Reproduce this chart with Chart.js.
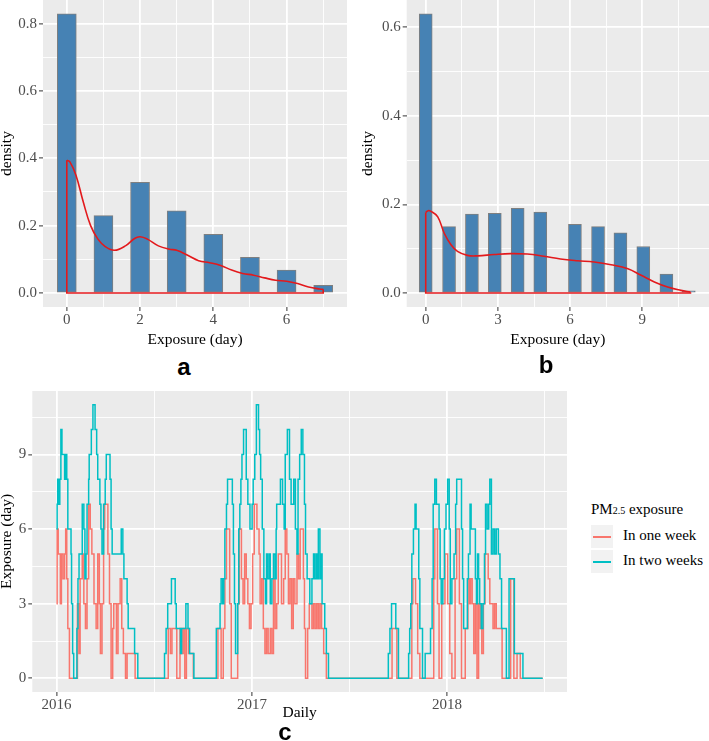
<!DOCTYPE html>
<html>
<head>
<meta charset="utf-8">
<script src="https://cdn.jsdelivr.net/npm/chart.js@4.4.0/dist/chart.umd.min.js"></script>
<style>
  body { margin: 0; background: #fff; }
  #wrap { position: relative; width: 709px; height: 741px; overflow: hidden; font-family: "Liberation Serif", serif; }
  canvas { position: absolute; }
  .tag { position: absolute; font: bold 24px "Liberation Sans", Arial, sans-serif; line-height: 24px; transform: translateX(-50%); }
  .leg { position: absolute; font-size: 15px; line-height: 15px; white-space: nowrap; color: #000; }
  .key { position: absolute; left: 591px; width: 22px; height: 23px; background: #F2F2F2; }
  .key div { position: absolute; left: 2px; width: 18px; height: 1.6px; top: 11px; }
</style>
</head>
<body>
<div id="wrap">
  <canvas id="ca" width="347" height="363" style="left:0;top:-11px;width:347px;height:363px"></canvas>
  <canvas id="cb" width="349" height="363" style="left:360px;top:-11px;width:349px;height:363px"></canvas>
  <canvas id="cc" width="567" height="342" style="left:0;top:380px;width:567px;height:342px"></canvas>

  <div class="tag" style="left:184px;top:355px">a</div>
  <div class="tag" style="left:546px;top:353px">b</div>
  <div class="tag" style="left:285px;top:720px">c</div>

  <div class="leg" style="left:591px;top:502px">PM<span style="font-size:10px">2.5</span> exposure</div>
  <div class="key" style="top:525px"><div style="background:#F8766D"></div></div>
  <div class="key" style="top:550px"><div style="background:#00BFC4"></div></div>
  <div class="leg" style="left:623px;top:528px">In one week</div>
  <div class="leg" style="left:623px;top:553px">In two weeks</div>
</div>

<script>
// ---- panel a: exposure histogram (one week) ----
const aBins = [0, 1, 2, 3, 4, 5, 6, 7];
const aDensity = [0.829, 0.230, 0.329, 0.244, 0.174, 0.106, 0.068, 0.023];
const aCurveX = [0, 0.08, 0.25, 0.45, 0.65, 0.85, 1.05, 1.3, 1.6, 1.85, 2.0, 2.2, 2.5, 2.8, 3.0, 3.3, 3.6, 3.9, 4.2, 4.5, 4.8, 5.1, 5.4, 5.7, 6.0, 6.3, 6.6, 6.9, 7.0];
const aCurveY = [0.394, 0.39, 0.35, 0.27, 0.2, 0.16, 0.138, 0.127, 0.14, 0.162, 0.167, 0.16, 0.14, 0.13, 0.127, 0.112, 0.096, 0.09, 0.082, 0.068, 0.058, 0.053, 0.045, 0.038, 0.035, 0.028, 0.018, 0.012, 0.011];
const aXMajor = [0, 2, 4, 6], aXMinor = [1, 3, 5, 7];
const aYMajor = [0, 0.2, 0.4, 0.6, 0.8], aYMinor = [0.1, 0.3, 0.5, 0.7];

// ---- panel b: exposure histogram (two weeks) ----
const bBins = [0, 0.97, 1.92, 2.87, 3.82, 4.76, 6.2, 7.16, 8.09, 9.04, 10.0, 10.93];
const bDensity = [0.63, 0.15, 0.178, 0.18, 0.191, 0.183, 0.155, 0.15, 0.136, 0.105, 0.043, 0.005];
const bCurveX = [0, 0.1, 0.2, 0.5, 0.77, 1.05, 1.32, 1.73, 2.15, 2.84, 3.53, 4.22, 4.91, 5.6, 6.3, 7.0, 7.7, 8.4, 8.95, 9.5, 10.05, 10.6, 11.0];
const bCurveY = [0.182, 0.186, 0.185, 0.172, 0.135, 0.109, 0.094, 0.085, 0.084, 0.087, 0.089, 0.088, 0.083, 0.077, 0.073, 0.07, 0.064, 0.055, 0.04, 0.025, 0.0135, 0.006, 0.002];
const bXMajor = [0, 3, 6, 9], bXMinor = [1.5, 4.5, 7.5, 10.5];
const bYMajor = [0, 0.2, 0.4, 0.6], bYMinor = [0.1, 0.3, 0.5];

// ---- panel c: daily exposure, [day since 2016-01-01, days exposed] at each change ----
const cYearTicks = [0, 366, 731];
const cYearLabels = ['2016', '2017', '2018'];
const cMidYear = [183, 548.5, 914];
const cYMajor = [0, 3, 6, 9], cYMinor = [1.5, 4.5, 7.5, 10.5];

const oneWeekSteps = [
  [0,3],[1,6],[3,5],[7,3],[9,5],[12,4],[15,5],[17,6],[19,4],[21,2],[24,0],[39,3],[42,1],[44,4],[48,5],[51,3],[54,2],[57,4],[60,7],[63,6],[66,5],[70,3],[74,2],[77,5],[80,3],[82,1],[85,3],[88,6],[90,7],[96,5],[99,3],[102,0],[105,2],[107,3],[112,1],[115,3],[119,4],[122,2],[125,1],[129,0],[132,1],[147,0],
  [209,2],[213,1],[216,2],[225,0],[231,2],[234,1],[237,2],[240,0],[243,2],[247,1],[256,0],
  [302,2],[308,0],[312,2],[315,4],[318,6],[324,3],[327,0],[339,3],[342,6],[346,4],[349,3],[352,5],[355,4],[358,3],[361,2],[364,3],[367,5],[370,7],[375,6],[379,5],[381,3],[384,4],[387,2],[390,1],[393,2],[396,1],[400,2],[403,1],[406,4],[409,2],[412,3],[415,5],[421,3],[425,4],[428,6],[431,5],[434,3],[437,4],[440,2],[443,4],[446,3],[450,5],[453,4],[456,6],[462,4],[464,2],[466,0],[470,2],[473,3],[478,2],[481,3],[484,2],[487,3],[490,2],[493,3],[496,2],[500,1],[505,0],
  [628,2],[637,0],[665,3],[667,4],[672,3],[676,1],[680,0],[706,4],[708,6],[713,3],[716,0],[721,3],[727,5],[732,3],[736,1],[740,0],[746,4],[749,6],[754,3],[758,0],[765,2],[770,4],[773,3],[775,4],[778,3],[781,1],[784,3],[787,0],[790,3],[793,2],[796,1],[799,3],[802,5],[808,4],[811,3],[817,2],[820,3],[823,2],[834,0],[850,4],[856,0],[862,1],[868,0],[910,0]
];
const twoWeekSteps = [
  [0,6],[1,7],[2,8],[4,7],[6,8],[8,10],[10,9],[15,8],[17,9],[19,8],[21,6],[27,5],[28,3],[30,1],[32,0],[38,2],[40,4],[42,5],[48,7],[51,6],[53,4],[55,5],[57,7],[60,8],[61,9],[65,10],[68,11],[72,10],[75,9],[77,8],[81,7],[83,6],[85,5],[88,7],[91,8],[93,9],[100,8],[102,6],[104,5],[121,6],[124,5],[126,4],[132,3],[134,2],[146,1],[152,0],
  [202,1],[205,2],[208,3],[215,4],[222,3],[224,2],[232,1],[234,2],[242,3],[246,2],[249,1],[257,0],
  [299,2],[306,3],[308,4],[311,3],[313,4],[315,6],[318,7],[320,8],[329,7],[331,5],[333,3],[335,1],[339,3],[341,6],[343,7],[345,8],[347,9],[350,10],[355,8],[358,7],[362,6],[366,7],[368,8],[371,9],[374,11],[378,10],[380,9],[382,8],[385,6],[388,4],[391,3],[393,5],[395,4],[398,5],[400,3],[403,4],[406,5],[409,4],[411,6],[412,7],[419,8],[423,7],[426,6],[428,9],[432,10],[436,8],[439,7],[444,8],[447,6],[450,5],[452,8],[455,9],[458,10],[461,9],[464,7],[466,5],[469,4],[474,3],[478,4],[481,5],[483,4],[486,5],[488,4],[490,6],[493,4],[495,5],[497,3],[502,2],[505,1],[509,0],
  [621,1],[624,2],[627,3],[635,2],[640,0],
  [659,1],[661,2],[663,3],[665,5],[668,6],[671,7],[673,6],[678,4],[680,2],[685,0],[690,1],[700,2],[703,4],[705,7],[708,8],[711,7],[716,6],[718,4],[720,3],[723,4],[726,6],[729,7],[732,8],[735,6],[737,3],[740,4],[744,5],[747,7],[749,8],[758,6],[760,4],[762,2],[769,4],[771,5],[774,7],[776,6],[784,4],[786,3],[788,5],[790,4],[792,3],[795,2],[798,3],[801,5],[803,7],[806,6],[809,7],[811,8],[814,5],[817,6],[820,5],[823,6],[827,5],[830,4],[833,2],[842,0],[847,4],[857,1],[873,0],[910,0]
];

const RED = '#E3191C';
const TICK_FONT = { family: 'Liberation Serif', size: 15 };
const TITLE_FONT = { family: 'Liberation Serif', size: 15.5 };

// grey ggplot-like panel background
const panelBg = {
  id: 'panelBg',
  beforeDraw(chart) {
    const { ctx, chartArea: a } = chart;
    ctx.save();
    ctx.fillStyle = '#EBEBEB';
    ctx.fillRect(a.left, a.top, a.right - a.left, a.bottom - a.top);
    ctx.restore();
  }
};

// linear axis with white major/minor grid, labels only on majors
function axis({ min, max, major, minor, label, title, size, titlePad, tickPad }) {
  const all = major.concat(minor).sort((p, q) => p - q);
  const isMajor = v => major.includes(v);
  return {
    type: 'linear', min, max, offset: false,
    afterBuildTicks: s => { s.ticks = all.map(v => ({ value: v })); },
    afterFit: s => { if (s.isHorizontal()) s.height = size; else s.width = size; },
    grid: {
      offset: false, color: '#fff',
      lineWidth: c => (c.tick && isMajor(c.tick.value)) ? 1.8 : 0.9,
      tickLength: 4, tickWidth: 1,
      tickColor: c => (c.tick && isMajor(c.tick.value)) ? '#333' : 'rgba(0,0,0,0)'
    },
    border: { display: false },
    ticks: {
      autoSkip: false, maxRotation: 0, padding: tickPad, color: '#4D4D4D', font: TICK_FONT,
      callback: v => isMajor(v) ? label(v) : ''
    },
    title: { display: true, text: title, color: '#000', font: TITLE_FONT, padding: titlePad }
  };
}

const baseOpts = {
  responsive: false, animation: false,
  plugins: { legend: { display: false }, tooltip: { enabled: false } }
};

function histChart(id, bins, dens, cx, cy, barW, xAxis, yAxis) {
  const curve = cx.map((x, i) => ({ x, y: cy[i] }));
  const last = cx.length - 1;
  const edge = [
    { x: cx[0], y: cy[0] }, { x: cx[0], y: 0 },
    { x: cx[last], y: 0 }, { x: cx[last], y: cy[last] }
  ];
  new Chart(document.getElementById(id), {
    type: 'bar',
    data: {
      datasets: [
        { type: 'line', data: curve, borderColor: RED, borderWidth: 1.6, pointRadius: 0, tension: 0.4, fill: false },
        { type: 'line', data: edge, borderColor: RED, borderWidth: 1.6, pointRadius: 0, tension: 0, fill: false },
        { type: 'bar', data: bins.map((x, i) => ({ x, y: dens[i] })), backgroundColor: '#4682B4',
          borderColor: '#7F7F7F', borderWidth: 1, borderSkipped: false, barThickness: barW }
      ]
    },
    options: { ...baseOpts, scales: { x: xAxis, y: yAxis } },
    plugins: [panelBg]
  });
}

histChart('ca', aBins, aDensity, aCurveX, aCurveY, 19,
  axis({ min: -0.65, max: 7.65, major: aXMajor, minor: aXMinor, label: v => String(v),
         title: 'Exposure (day)', size: 45, titlePad: { top: 0, bottom: 3 }, tickPad: 0 }),
  axis({ min: -0.0415, max: 0.87, major: aYMajor, minor: aYMinor, label: v => v.toFixed(1),
         title: 'density', size: 43, titlePad: { top: -2, bottom: 0 }, tickPad: 2 }));

histChart('cb', bBins, bDensity, bCurveX, bCurveY, 13,
  axis({ min: -0.79, max: 11.77, major: bXMajor, minor: bXMinor, label: v => String(v),
         title: 'Exposure (day)', size: 45, titlePad: { top: 0, bottom: 3 }, tickPad: 0 }),
  axis({ min: -0.0315, max: 0.6615, major: bYMajor, minor: bYMinor, label: v => v.toFixed(1),
         title: 'density', size: 46.7, titlePad: { top: -1, bottom: 0 }, tickPad: 2 }));

new Chart(document.getElementById('cc'), {
  type: 'line',
  data: {
    datasets: [
      { label: 'In two weeks', data: twoWeekSteps.map(([d, v]) => ({ x: d, y: v })),
        borderColor: '#00BFC4', borderWidth: 1.5, pointRadius: 0, stepped: true, fill: false },
      { label: 'In one week', data: oneWeekSteps.map(([d, v]) => ({ x: d, y: v })),
        borderColor: '#F8766D', borderWidth: 1.5, pointRadius: 0, stepped: true, fill: false }
    ]
  },
  options: {
    ...baseOpts,
    scales: {
      x: axis({ min: -45.5, max: 955.5, major: cYearTicks, minor: cMidYear,
                label: v => cYearLabels[cYearTicks.indexOf(v)],
                title: 'Daily', size: 30, titlePad: { top: 0, bottom: 0 }, tickPad: 0 }),
      y: axis({ min: -0.55, max: 11.55, major: cYMajor, minor: cYMinor, label: v => String(v),
                title: 'Exposure (day)', size: 32.3, titlePad: { top: -2, bottom: 0 }, tickPad: 2 })
    }
  },
  plugins: [panelBg]
});
</script>
</body>
</html>
